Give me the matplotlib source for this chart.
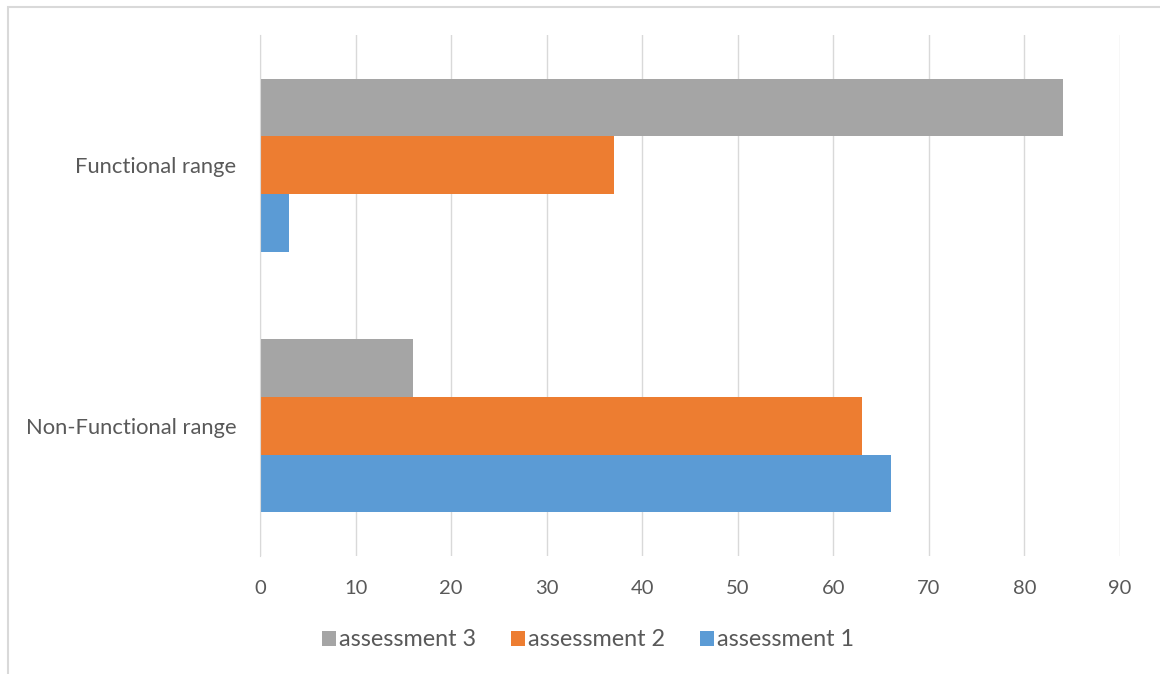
import matplotlib
matplotlib.use("Agg")
import matplotlib.pyplot as plt
from matplotlib.patches import Rectangle, Patch
import numpy as np

categories = ["Non-Functional range", "Functional range"]
series_names = ["assessment 1", "assessment 2", "assessment 3"]
assessment_1 = [66, 3]
assessment_2 = [63, 37]
assessment_3 = [16, 84]
colors = ["#5B9BD5", "#ED7D31", "#A5A5A5"]
x_ticks = list(range(0, 100, 10))

plt.rcParams["font.family"] = ["Lato", "DejaVu Sans"]
text_color = "#595959"

fig = plt.figure(figsize=(11.6, 6.74), dpi=100)
ax = fig.add_axes([260 / 1160, 1 - 556 / 674, 860 / 1160, 521 / 674])

y = np.arange(len(categories))
bar_h = 0.222
values = [assessment_1, assessment_2, assessment_3]
offsets = [-bar_h, 0, bar_h]
for vals, off, c, name in zip(values, offsets, colors, series_names):
    ax.barh(y + off, vals, height=bar_h, color=c, label=name, zorder=3)

ax.set_xlim(0, 90)
ax.set_ylim(-0.5, 1.5)
ax.set_xticks(x_ticks)
ax.set_yticks(y)
ax.set_yticklabels(categories, fontsize=15.8)
ax.grid(axis="x", color="#D9D9D9", linewidth=1, zorder=0)
for s in ["top", "right", "bottom"]:
    ax.spines[s].set_visible(False)
ax.spines["left"].set_color("#D9D9D9")
ax.spines["left"].set_zorder(4)
ax.tick_params(axis="both", length=0, colors=text_color)
ax.tick_params(axis="x", pad=17, labelsize=14.5)
ax.tick_params(axis="y", pad=17)

handles = [Patch(facecolor=colors[2]), Patch(facecolor=colors[1]), Patch(facecolor=colors[0])]
labels = [series_names[2], series_names[1], series_names[0]]
leg = fig.legend(handles, labels, loc="center", bbox_to_anchor=(588 / 1160, 1 - 640 / 674),
                 ncol=3, frameon=False, fontsize=16.8, handlelength=0.6, handleheight=0.6,
                 handletextpad=0.12, columnspacing=1.5)
for t in leg.get_texts():
    t.set_color(text_color)

# outer chart border
fig.patches.append(Rectangle((8 / 1160, -0.1), 1.2, 1 - 7 / 674 + 0.1, transform=fig.transFigure,
                             fill=False, edgecolor="#D9D9D9", linewidth=1.5))

fig.savefig("out.png", dpi=100)
